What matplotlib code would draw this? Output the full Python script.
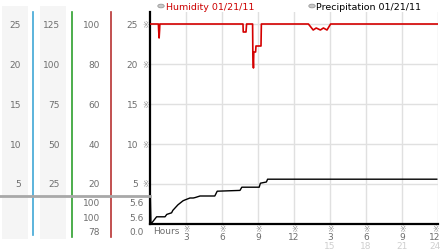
import matplotlib
matplotlib.use('Agg')
import matplotlib.pyplot as plt
from matplotlib.patches import Rectangle, Circle
from matplotlib.lines import Line2D
import matplotlib.transforms as mtransforms

W, H = 442, 253

# humidity (%) over the day, hours from midnight
hum_hours = [0, 0.7, 0.72, 0.76, 0.8, 0.82, 7.75, 7.77, 8.0, 8.05, 8.55, 8.57, 8.62, 8.65,
             8.8, 8.83, 9.25, 9.28, 13.2, 13.6, 13.85, 14.2, 14.45, 14.75, 15.05, 24]
hum_vals = [100, 100, 97, 93, 97, 100, 100, 96, 96, 100, 100, 86, 78, 86,
            86, 89, 89, 100, 100, 97, 98, 97, 98, 97, 100, 100]

# precipitation (mm), cumulative
pre_hours = [0, 0.03, 0.08, 0.55, 1.25, 1.4, 1.8, 1.9, 2.33, 2.75, 2.9, 3.33, 3.6, 3.75,
             4.17, 5.4, 5.6, 7.5, 7.65, 9.1, 9.2, 9.7, 9.8, 23.9]
pre_vals = [3.6, 3.6, 0.0, 0.9, 0.9, 1.2, 1.4, 1.7, 2.4, 2.9, 3.0, 3.25, 3.25, 3.3,
            3.5, 3.5, 4.1, 4.2, 4.6, 4.6, 5.1, 5.25, 5.6, 5.6]

y_ticks = [25, 20, 15, 10, 5]
col1_labels = ['25', '20', '15', '10', '5']
col2_labels = ['125', '100', '75', '50', '25']
col3_labels = ['100', '80', '60', '40', '20']
col4_labels = ['25', '20', '15', '10', '5']
hum_stats = ['100', '100', '78']
pre_stats = ['5.6', '5.6', '0.0']
x_ticks = [3, 6, 9, 12, 15, 18, 21, 24]
x_labels = ['3', '6', '9', '12', '3', '6', '9', '12']
x_labels2 = ['15', '18', '21', '24']

GRAY = '#6e6e6e'


def fx(px):
    return px / W


def fy(py):
    return 1 - py / H


fig = plt.figure(figsize=(W / 100, H / 100), dpi=100)
fig.patch.set_facecolor('white')

# left stacked axis columns (backgrounds)
for x0, x1 in [(2, 28), (40, 66)]:
    fig.patches.append(Rectangle((fx(x0), fy(240)), fx(x1) - fx(x0), fy(7) - fy(240),
                                 transform=fig.transFigure, facecolor='#f5f5f5',
                                 edgecolor='none', zorder=0))

ax = fig.add_axes([fx(150), fy(225), fx(438) - fx(150), fy(13) - fy(225)])
ax.set_xlim(0, 24)
ax.set_ylim(0, 26.5)
ax.set_facecolor('none')

for s in ['top', 'right']:
    ax.spines[s].set_visible(False)
ax.spines['left'].set_linewidth(1.6)
ax.spines['bottom'].set_linewidth(1.6)
ax.set_xticks([])
ax.set_yticks([])

# grid
for v in y_ticks:
    ax.axhline(v, color='#e0e0e0', lw=1, zorder=1)
for h in x_ticks:
    ax.axvline(h, color='#e0e0e0', lw=1, zorder=1)

# humidity is drawn on the 0..100 scale -> 0..25 plot units
ax.plot(hum_hours, [v / 4 for v in hum_vals], color='#d40000', lw=1.2, zorder=3)
ax.plot(pre_hours, pre_vals, color='black', lw=1.0, zorder=3)

# y labels of each column, aligned to plot values
yt = mtransforms.blended_transform_factory(fig.transFigure, ax.transData)
fs = 6.5
for v, a, b, c, d in zip(y_ticks, col1_labels, col2_labels, col3_labels, col4_labels):
    fig.text(fx(21), v, a, transform=yt, ha='right', va='center', fontsize=fs, color=GRAY)
    fig.text(fx(60), v, b, transform=yt, ha='right', va='center', fontsize=fs, color=GRAY)
    fig.text(fx(100), v, c, transform=yt, ha='right', va='center', fontsize=fs, color=GRAY)
    fig.text(fx(138), v, d, transform=yt, ha='right', va='center', fontsize=fs, color=GRAY)
    fig.text(fx(145.5), v, '\u203b', transform=yt, ha='center', va='center', fontsize=5.5, color='#8a8a8a')

# coloured column separators
for xp, col, y1 in [(33, '#3fa7d6', 236), (72, '#2ea02e', 238), (111, '#b83232', 238)]:
    fig.add_artist(Line2D([fx(xp), fx(xp)], [fy(13), fy(y1)], transform=fig.transFigure,
                          color=col, lw=1.2))

# gray separator above stats
fig.add_artist(Line2D([fx(0), fx(150)], [fy(197), fy(197)], transform=fig.transFigure,
                      color='#a8a8a8', lw=2))

for i, (hs, ps) in enumerate(zip(hum_stats, pre_stats)):
    yp = 204 + 14.3 * i
    fig.text(fx(100), fy(yp), hs, ha='right', va='center', fontsize=fs, color=GRAY)
    fig.text(fx(144), fy(yp), ps, ha='right', va='center', fontsize=fs, color=GRAY)

# x labels (last column nudged in so it stays inside the image)
xt = mtransforms.blended_transform_factory(ax.transData, fig.transFigure)
for h, lab in zip(x_ticks, x_labels):
    hx = min(h, 23.75)
    fig.text(hx, fy(229.5), '\u203b', transform=xt, ha='center', va='center', fontsize=5.5, color='#8a8a8a')
    fig.text(hx, fy(238), lab, transform=xt, ha='center', va='center', fontsize=fs, color=GRAY)
for h, lab in zip(x_ticks[4:], x_labels2):
    hx = min(h, 23.75)
    fig.text(hx, fy(247), lab, transform=xt, ha='center', va='center', fontsize=fs, color='#cfcfcf')
fig.text(fx(153), fy(232), 'Hours', ha='left', va='center', fontsize=fs, color=GRAY)

# legend
for xp, label, col in [(161, 'Humidity 01/21/11', '#cc0000'), (312, 'Precipitation 01/21/11', 'black')]:
    fig.patches.append(Circle((fx(xp), fy(7)), 3.2 / W, transform=fig.transFigure,
                              facecolor='#c8c8c8', edgecolor='#9a9a9a', lw=0.6))
    fig.text(fx(xp + 4.5), fy(7.5), label, ha='left', va='center', fontsize=6.8, color=col)

fig.savefig('out.png', dpi=100)
